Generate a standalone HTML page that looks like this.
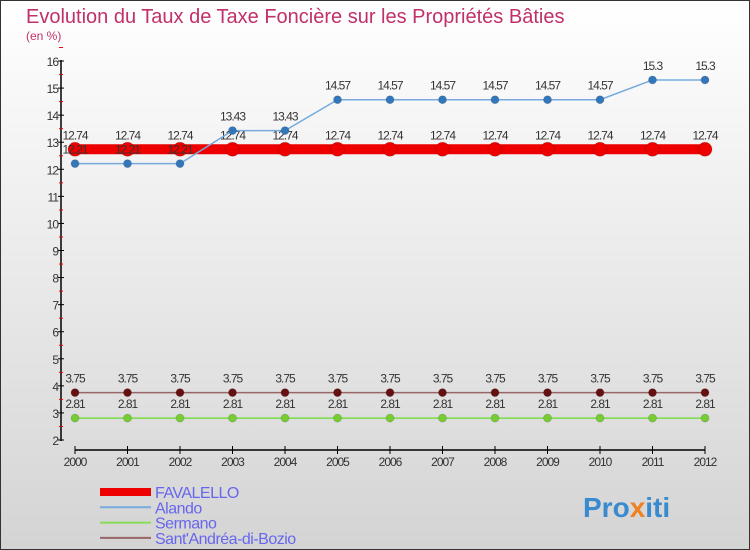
<!DOCTYPE html>
<html><head><meta charset="utf-8"><style>
body{margin:0;width:750px;height:550px;overflow:hidden;font-family:"Liberation Sans",sans-serif}
#c{position:absolute;left:0;top:0;width:748px;height:548px;border:1px solid #333;background:linear-gradient(#ffffff,#d4d4d4)}
</style></head><body>
<div id="c">
<svg id="s" width="750" height="550" style="position:absolute;left:-1px;top:-1px">
<text x="26" y="23" font-size="20" fill="#c0306a">Evolution du Taux de Taxe Foncière sur les Propriétés Bâties</text>
<text x="26" y="40" font-size="12" fill="#c0306a">(en %)</text>
<text x="583" y="517" font-size="28" font-weight="bold" fill="#3a8ad0">Pro<tspan fill="#f08020">x</tspan>iti</text>
</svg>
</div>
<script>
const years=["2000","2001","2002","2003","2004","2005","2006","2007","2008","2009","2010","2011","2012"];
const favalello=[12.74,12.74,12.74,12.74,12.74,12.74,12.74,12.74,12.74,12.74,12.74,12.74,12.74];
const alando=[12.21,12.21,12.21,13.43,13.43,14.57,14.57,14.57,14.57,14.57,14.57,15.3,15.3];
const sermano=[2.81,2.81,2.81,2.81,2.81,2.81,2.81,2.81,2.81,2.81,2.81,2.81,2.81];
const santandrea=[3.75,3.75,3.75,3.75,3.75,3.75,3.75,3.75,3.75,3.75,3.75,3.75,3.75];
const yTicks=[2,3,4,5,6,7,8,9,10,11,12,13,14,15,16];
const s=document.getElementById('s');const NS='http://www.w3.org/2000/svg';
const X=i=>75+i*52.5, Y=v=>440-(v-2)*27.07;
function el(t,a,p){const e=document.createElementNS(NS,t);for(const k in a)e.setAttribute(k,a[k]);(p||s).appendChild(e);return e;}
let e=el('line',{x1:61,y1:60,x2:61,y2:441,stroke:'#000','stroke-width':1.5});

yTicks.forEach(v=>{el('line',{x1:58,x2:64,y1:Y(v),y2:Y(v),stroke:'#000'});
el('line',{x1:59,x2:63,y1:Y(v+0.5),y2:Y(v+0.5),stroke:'#e00'});
const t=el('text',{x:58,y:Y(v)+5,'font-size':12,fill:'#333','text-anchor':'end','letter-spacing':'-1'});t.textContent=v;
});
e=el('line',{x1:75,y1:450,x2:705,y2:450,stroke:'#000','stroke-width':1.5});

years.forEach((y,i)=>{el('line',{x1:X(i),x2:X(i),y1:446,y2:454,stroke:'#000'});
const t=el('text',{x:X(i),y:466,'font-size':12,fill:'#333','text-anchor':'middle','letter-spacing':'-1'});t.textContent=y;
});
function series(d,name,col,mcol,lw,r){
const g=el('g',{});
el('polyline',{points:d.map((v,i)=>X(i)+','+Y(v)).join(' '),fill:'none',stroke:col,'stroke-width':lw},g);
d.forEach((v,i)=>{const c=el('circle',{cx:X(i),cy:Y(v),r:r,fill:mcol,stroke:'#0002'},g);

const t=el('text',{x:X(i),y:Y(v)-10,'font-size':12,fill:'#333','text-anchor':'middle','letter-spacing':'-1'},g);t.textContent=v;
});}
series(sermano,'sermano','#77dd44','#77cc33',1.5,4);
series(santandrea,'sant-andrea','#996666','#661111',1.5,4);
series(favalello,'favalello','#ee0000','#ee0000',10,7);
series(alando,'alando','#77aadd','#3377bb',1.5,4);
const leg=[["FAVALELLO","#ee0000",8],["Alando","#77aadd",2],["Sermano","#88dd55",2],["Sant'Andréa-di-Bozio","#996666",2]];
leg.forEach((l,i)=>{const y=492+i*15.3;const g=el('g',{});

el('line',{x1:100,x2:151,y1:y,y2:y,stroke:l[1],'stroke-width':l[2]},g);
const t=el('text',{x:155,y:y+6,'font-size':16,fill:'#6666ee','letter-spacing':'-0.5'},g);t.textContent=l[0];});
</script>
</body></html>
